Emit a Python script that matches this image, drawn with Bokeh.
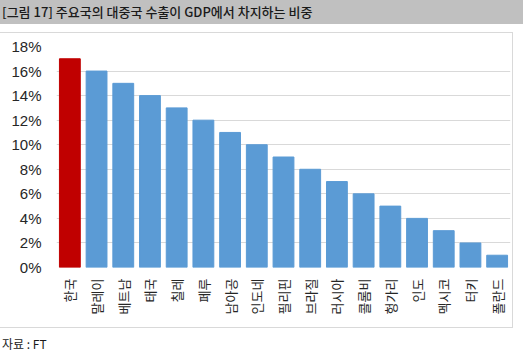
from bokeh.plotting import figure
from bokeh.layouts import column
from bokeh.models import Div, FixedTicker, PrintfTickFormatter, ColumnDataSource, FactorRange, Range1d
from bokeh.embed import file_html
from bokeh.resources import INLINE

title_text = "[그림 17] 주요국의 대중국 수출이 GDP에서 차지하는 비중"
source_text = "자료 : FT"
countries = ["한국", "말레이", "베트남", "태국", "칠레", "페루", "남아공", "인도네", "필리핀",
             "브라질", "러시아", "콜롬비", "헝가리", "인도", "멕시코", "터키", "폴란드"]
shares = [17, 16, 15, 14, 13, 12, 11, 10, 9, 8, 7, 6, 5, 4, 3, 2, 1]
y_ticks = [0, 2, 4, 6, 8, 10, 12, 14, 16, 18]

colors = ["#C00000"] + ["#5B9BD5"] * (len(countries) - 1)
src = ColumnDataSource(dict(x=countries, y=shares, c=colors))

FONT = "'Noto Sans CJK KR', 'Noto Sans', sans-serif"

title_div = Div(text=title_text, width=526, height=27,
                styles={"background-color": "#C0C0C0", "font-family": FONT,
                        "font-size": "13px", "font-weight": "500", "color": "#1a1a1a",
                        "line-height": "29px", "padding-left": "5px", "box-sizing": "border-box",
                        "white-space": "nowrap"})

p = figure(width=519, height=296, x_range=FactorRange(*countries), y_range=Range1d(0, 18),
           output_backend="svg", toolbar_location=None,
           min_border_left=61, min_border_right=4, min_border_top=13, min_border_bottom=62)
p.margin = (3, 0, 0, 2)
p.styles = {"border": "1px solid #D9D9D9"}
p.outline_line_color = None
p.vbar(x="x", top="y", width=0.78, color="c", source=src)

p.yaxis.ticker = FixedTicker(ticks=y_ticks)
p.yaxis.formatter = PrintfTickFormatter(format="%d%%")
p.yaxis.axis_line_color = None
p.yaxis.major_tick_line_color = None
p.yaxis.minor_tick_line_color = None
p.yaxis.major_tick_out = 0
p.yaxis.major_label_standoff = 15
p.yaxis.major_label_text_font = "Liberation Sans"
p.yaxis.major_label_text_font_size = "15px"
p.yaxis.major_label_text_color = "#262626"

p.xaxis.axis_line_color = None
p.xaxis.major_tick_line_color = None
p.xaxis.major_tick_out = 0
p.xaxis.major_label_standoff = 11
p.xaxis.major_label_orientation = 1.5708
p.xaxis.major_label_text_font = "Noto Sans CJK KR"
p.xaxis.major_label_text_font_size = "13px"
p.xaxis.major_label_text_color = "#262626"

p.xgrid.grid_line_color = None
p.ygrid.grid_line_color = "#D9D9D9"
p.x_range.range_padding = 0

source_div = Div(text=source_text, width=526, height=28,
                 styles={"font-family": FONT, "font-size": "12px", "color": "#1a1a1a",
                         "line-height": "16px", "padding-top": "3px", "padding-left": "5px",
                         "box-sizing": "border-box"})

layout = column(title_div, p, source_div, spacing=0)
layout.margin = (-8, 0, 0, -8)

open("out.html", "w").write(file_html(layout, INLINE))
